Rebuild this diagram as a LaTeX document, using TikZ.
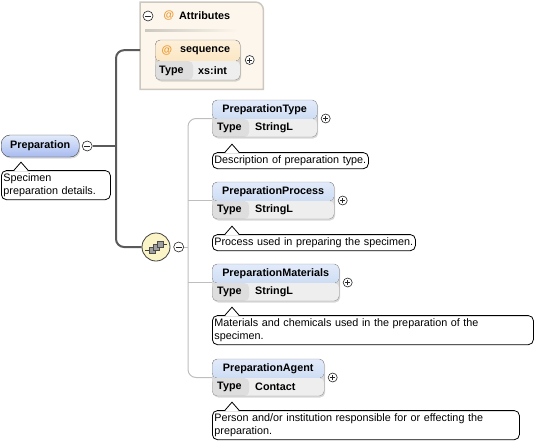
\documentclass[tikz,border=0pt]{standalone}
\usepackage{fontspec}
\setmainfont{Liberation Sans}
\usetikzlibrary{positioning,shadows}

\definecolor{hdtop}{RGB}{226,235,250}
\definecolor{hdblue}{RGB}{186,207,238}
\definecolor{rowgray}{RGB}{238,238,238}
\definecolor{cellgray}{RGB}{222,222,222}
\definecolor{boxline}{RGB}{150,150,150}
\definecolor{attrfill}{RGB}{252,246,236}
\definecolor{attrline}{RGB}{204,200,192}
\definecolor{athead}{RGB}{250,222,174}
\definecolor{atorange}{RGB}{236,150,40}
\definecolor{treeline}{RGB}{90,90,90}
\definecolor{twigcol}{RGB}{190,190,190}
\definecolor{compfill}{RGB}{250,244,198}

\newcommand{\docfont}{\fontsize{10.8}{13}\selectfont}

\tikzstyle{elem} = [rectangle, draw=boxline, rounded corners=5pt, minimum height=37pt, inner sep=0pt, anchor=west,
  drop shadow={shadow xshift=1pt, shadow yshift=-1.5pt, opacity=0.3},
  path picture={
    \fill[top color=hdtop, bottom color=hdblue] (path picture bounding box.north west) rectangle ([yshift=-19pt]path picture bounding box.north east);
    \fill[rowgray] ([yshift=-19pt]path picture bounding box.north west) rectangle (path picture bounding box.south east);
    \fill[cellgray] ([yshift=-19pt]path picture bounding box.north west) rectangle ([xshift=37pt]path picture bounding box.south west);
  }]
\tikzstyle{attrelem} = [rectangle, draw=boxline, rounded corners=5pt, minimum height=40pt, inner sep=0pt, anchor=west,
  drop shadow={shadow xshift=1pt, shadow yshift=-1.5pt, opacity=0.3},
  path picture={
    \fill[top color=athead!45, bottom color=athead] (path picture bounding box.north west) rectangle ([yshift=-21pt]path picture bounding box.north east);
    \fill[rowgray] ([yshift=-21pt]path picture bounding box.north west) rectangle (path picture bounding box.south east);
    \fill[cellgray] ([yshift=-21pt]path picture bounding box.north west) rectangle ([xshift=38pt]path picture bounding box.south west);
  }]
\tikzstyle{btn} = [circle, draw=black!85, fill=white, inner sep=0pt, minimum size=9pt, line width=0.6pt]
\tikzstyle{plusbtn} = [btn, path picture={
    \draw[line width=0.7pt] ([xshift=-2.5pt]path picture bounding box.center) -- ([xshift=2.5pt]path picture bounding box.center);
    \draw[line width=0.7pt] ([yshift=-2.5pt]path picture bounding box.center) -- ([yshift=2.5pt]path picture bounding box.center);
  }]
\tikzstyle{minusbtn} = [btn, minimum size=10pt, path picture={
    \draw[line width=0.7pt] ([xshift=-2.8pt]path picture bounding box.center) -- ([xshift=2.8pt]path picture bounding box.center);
  }]
\tikzstyle{docbox} = [draw, fill=white, rounded corners=5pt, line width=0.8pt, inner xsep=2pt, inner ysep=3pt, align=left, font=\docfont]

\begin{document}
\begin{tikzpicture}
  [
  x=1pt, y=-1pt,
  trunk/.style={draw=treeline, line width=2pt},
  twig/.style={draw=twigcol, line width=1pt},
  hdtext/.style={font=\bfseries\docfont, inner sep=0pt},
  prepbox/.style={
  rectangle, draw=black!75, rounded corners=9pt,
  top color=hdtop, bottom color=hdblue!90!blue,
  minimum width=78pt, minimum height=22pt, inner sep=0pt,
  anchor=west, font=\bfseries\docfont,
  drop shadow={shadow xshift=1pt, shadow yshift=-1.5pt, opacity=0.3}},
  compbox/.style={
  circle, draw=black!75, line width=0.8pt, fill=compfill, minimum size=28pt, inner sep=0pt,
  path picture={
    \draw[black!75, line width=0.8pt] ([xshift=-11pt,yshift=-3pt]path picture bounding box.center) -- ([xshift=-7pt,yshift=-3pt]path picture bounding box.center);
    \draw[black!75, line width=0.8pt] ([xshift=7pt,yshift=3pt]path picture bounding box.center) -- ([xshift=11pt,yshift=3pt]path picture bounding box.center);
    \filldraw[fill=gray!75, draw=black!70, line width=0.5pt] ([xshift=-7pt,yshift=-6pt]path picture bounding box.center) rectangle ([xshift=-1pt,yshift=0pt]path picture bounding box.center);
    \filldraw[fill=gray!75, draw=black!70, line width=0.5pt] ([xshift=-3pt,yshift=-3pt]path picture bounding box.center) rectangle ([xshift=3pt,yshift=3pt]path picture bounding box.center);
    \filldraw[fill=gray!75, draw=black!70, line width=0.5pt] ([xshift=1pt,yshift=0pt]path picture bounding box.center) rectangle ([xshift=7pt,yshift=6pt]path picture bounding box.center);
  }}
  ]
  \useasboundingbox (0,0) rectangle (560,445);

  % root element
  \node[prepbox] (prep) at (1,146) {Preparation};
  \node[minusbtn, right=2.5pt of prep] (prepminus) {};
  \node[docbox, text width=105pt, below=13pt of prep.south west, anchor=north west] (prepdoc) {Specimen\\preparation details.};

  % attributes
  \node[minimum width=123pt, minimum height=87pt, inner sep=0pt, anchor=north west] (attr) at (140,2) {};
  \filldraw[draw=attrline, fill=attrfill, line width=1.5pt] (attr.south west) -- (attr.north west) -- ([xshift=-8pt]attr.north east) arc[start angle=90, end angle=0, radius=8pt] -- (attr.south east) -- cycle;
  \node[minusbtn] (attrminus) at (148,16) {};
  \node[hdtext, text=atorange] (attrat) at (169,16) {@};
  \node[hdtext, anchor=west] (attrtitle) at (179,16) {Attributes};
  \shade[left color=attrline, right color=attrfill] ([xshift=5pt,yshift=-27pt]attr.north west) rectangle ([xshift=-25pt,yshift=-29pt]attr.north east);

  \node[attrelem, minimum width=85pt] (seq) at (155,60) {};
  \node[hdtext, text=atorange] (seqat) at (167,50.5) {@};
  \node[hdtext, anchor=west] (seqname) at (180,50.5) {sequence};
  \node[hdtext, anchor=west] (seqtype) at (159,70.5) {Type};
  \node[hdtext, anchor=west] (seqval) at (198,70.5) {xs:int};
  \node[plusbtn, right=4.5pt of seq] (seqplus) {};

  % sequence compositor
  \node[compbox] (seqicon) at (156,247) {};
  \node[minusbtn, right=3pt of seqicon] (seqminus) {};
  \coordinate (spine) at (116,146);
  \coordinate (hub) at (188,247);

  \draw[trunk] (prepminus) -- (spine);
  \draw[trunk, rounded corners=8pt] ([yshift=-4.5pt]attr.west) -| (spine) |- (seqicon);

  % child elements
  \node[elem, minimum width=105pt] (ptype) at (212,118.5) {};
  \node[hdtext] (ptype-name) at ([yshift=-9.5pt]ptype.north) {PreparationType};
  \node[hdtext, anchor=west] (ptype-t) at ([xshift=5pt,yshift=9pt]ptype.south west) {Type};
  \node[hdtext, anchor=west] (ptype-v) at ([xshift=43pt,yshift=9pt]ptype.south west) {StringL};
  \node[plusbtn, right=3.5pt of ptype] (ptype-plus) {};
  \node[docbox, text width=152pt, below=15pt of ptype.south west, anchor=north west] (ptypedoc) {Description of preparation type.};

  \node[elem, minimum width=122pt] (pproc) at (212,200.5) {};
  \node[hdtext] (pproc-name) at ([yshift=-9.5pt]pproc.north) {PreparationProcess};
  \node[hdtext, anchor=west] (pproc-t) at ([xshift=5pt,yshift=9pt]pproc.south west) {Type};
  \node[hdtext, anchor=west] (pproc-v) at ([xshift=43pt,yshift=9pt]pproc.south west) {StringL};
  \node[plusbtn, right=3.5pt of pproc] (pproc-plus) {};
  \node[docbox, text width=199pt, below=15pt of pproc.south west, anchor=north west] (pprocdoc) {Process used in preparing the specimen.};

  \node[elem, minimum width=127pt] (pmat) at (212,282.5) {};
  \node[hdtext] (pmat-name) at ([yshift=-9.5pt]pmat.north) {PreparationMaterials};
  \node[hdtext, anchor=west] (pmat-t) at ([xshift=5pt,yshift=9pt]pmat.south west) {Type};
  \node[hdtext, anchor=west] (pmat-v) at ([xshift=43pt,yshift=9pt]pmat.south west) {StringL};
  \node[plusbtn, right=3.5pt of pmat] (pmat-plus) {};
  \node[docbox, text width=317pt, below=14pt of pmat.south west, anchor=north west] (pmatdoc) {Materials and chemicals used in the preparation of the\\specimen.};

  \node[elem, minimum width=112pt] (pagent) at (212,377.5) {};
  \node[hdtext] (pagent-name) at ([yshift=-9.5pt]pagent.north) {PreparationAgent};
  \node[hdtext, anchor=west] (pagent-t) at ([xshift=5pt,yshift=9pt]pagent.south west) {Type};
  \node[hdtext, anchor=west] (pagent-v) at ([xshift=43pt,yshift=9pt]pagent.south west) {Contact};
  \node[plusbtn, right=3.5pt of pagent] (pagent-plus) {};
  \node[docbox, text width=303pt, below=14pt of pagent.south west, anchor=north west] (pagentdoc) {Person and/or institution responsible for or effecting the\\preparation.};

  % callout notches
  \foreach \d in {prepdoc,ptypedoc,pprocdoc,pmatdoc,pagentdoc} {
    \fill[white] ([xshift=13pt,yshift=-1pt]\d.north west) -- ([xshift=20pt,yshift=8pt]\d.north west) -- ([xshift=27pt,yshift=-1pt]\d.north west) -- cycle;
    \draw[line width=0.8pt] ([xshift=13pt]\d.north west) -- ([xshift=20pt,yshift=8pt]\d.north west) -- ([xshift=27pt]\d.north west);
  }

  % content model lines
  \draw[twig] (seqminus) -- (hub);
  \draw[twig, rounded corners=8pt] (ptype.west) -| (hub) |- (pagent.west);
  \draw[twig] (pproc.west) -- (pproc.west -| hub);
  \draw[twig] (pmat.west) -- (pmat.west -| hub);
\end{tikzpicture}
\end{document}
